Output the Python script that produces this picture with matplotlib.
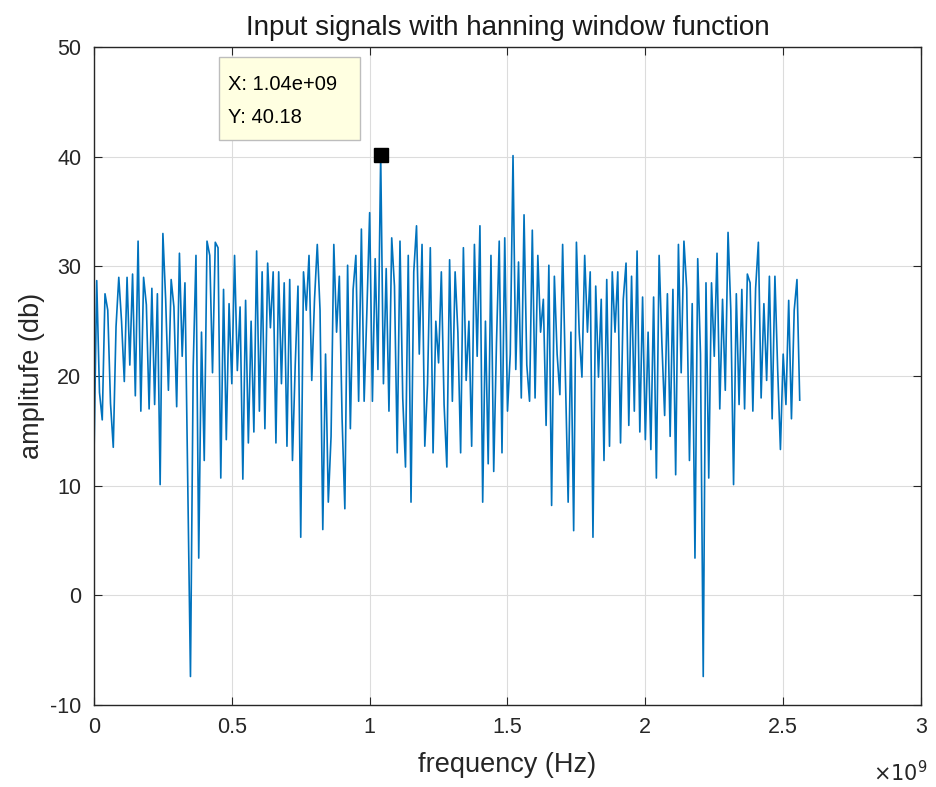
import numpy as np
import matplotlib
matplotlib.use("Agg")
import matplotlib.pyplot as plt
from matplotlib.patches import Rectangle
from matplotlib.ticker import FuncFormatter

# spectrum, one value per 10 MHz bin (0 .. 2.56 GHz)
bin_width = 1e7
amplitude_db = [
    12.6, 28.7, 18.5, 16.0, 27.5, 26.0, 17.5, 13.5, 24.5, 29.0,
    25.0, 19.5, 29.0, 21.0, 29.3, 18.2, 32.3, 16.8, 29.0, 26.5,
    17.0, 28.0, 17.4, 27.5, 10.1, 33.0, 27.0, 18.7, 28.8, 26.3,
    17.2, 31.2, 21.8, 28.5, 10.7, -7.4, 20.9, 31.0, 3.4, 24.0,
    12.3, 32.3, 31.0, 20.3, 32.2, 31.7, 10.7, 27.9, 14.2, 26.6,
    19.3, 31.0, 20.5, 26.3, 10.6, 26.9, 13.9, 25.0, 14.9, 31.4,
    16.8, 29.5, 15.2, 30.3, 24.4, 29.5, 13.9, 29.5, 19.3, 28.5,
    13.6, 28.8, 12.3, 21.0, 28.2, 5.3, 29.5, 26.0, 31.0, 19.6,
    27.0, 32.0, 26.0, 6.0, 22.0, 8.5, 14.5, 32.0, 24.0, 29.1,
    16.1, 7.9, 30.1, 15.2, 27.9, 31.0, 17.7, 33.4, 17.7, 26.0,
    34.9, 17.7, 30.7, 20.6, 40.18, 19.3, 29.8, 16.8, 32.6, 28.2,
    13.0, 32.3, 18.0, 11.7, 31.0, 8.5, 29.5, 33.7, 22.0, 32.0,
    13.6, 19.3, 31.7, 13.0, 25.0, 21.2, 29.5, 17.4, 11.7, 30.6,
    17.7, 29.5, 24.0, 13.0, 31.7, 19.6, 25.0, 13.6, 32.0, 21.8,
    33.7, 8.5, 25.0, 12.0, 31.0, 11.3, 23.0, 32.3, 13.0, 32.6,
    16.8, 22.0, 40.1, 20.6, 30.4, 18.0, 34.7, 21.0, 17.7, 33.3,
    18.0, 31.0, 24.0, 27.0, 15.5, 30.1, 8.2, 29.1, 22.0, 18.3,
    32.0, 20.0, 8.5, 24.0, 5.9, 32.2, 24.0, 19.9, 31.0, 24.0,
    29.5, 5.3, 28.2, 19.9, 27.0, 12.3, 28.8, 13.6, 29.5, 24.0,
    29.5, 13.9, 27.0, 30.3, 15.5, 29.1, 16.8, 31.4, 14.9, 27.2,
    14.2, 24.0, 13.3, 27.2, 10.7, 31.0, 23.0, 16.4, 27.5, 14.5,
    27.9, 11.0, 32.0, 20.3, 32.3, 28.0, 12.3, 26.6, 3.4, 30.7,
    22.0, -7.4, 28.5, 10.7, 28.5, 21.8, 31.2, 17.0, 27.0, 18.7,
    33.1, 26.0, 10.1, 27.5, 17.4, 27.9, 17.0, 29.3, 28.5, 16.8,
    28.0, 32.2, 18.0, 26.6, 19.6, 29.1, 16.1, 29.1, 20.6, 13.3,
    22.0, 17.4, 26.9, 16.1, 26.0, 28.8, 17.8,
]
freq = np.arange(len(amplitude_db)) * bin_width

# data tip on the 1.04 GHz peak
tip_x = 1.04e9
tip_y = 40.18
tip_text = 'X: 1.04e+09\nY: 40.18'

plt.rcParams['font.family'] = ['Liberation Sans', 'DejaVu Sans']
plt.rcParams['axes.unicode_minus'] = False
fig = plt.figure(figsize=(9.36, 7.87), dpi=100)
ax = fig.add_axes([0.1004, 0.1042, 0.8836, 0.836])

ax.plot(freq, amplitude_db, color='#0072BD', linewidth=1.2)
ax.plot([tip_x], [tip_y], marker='s', color='black', markersize=10, linestyle='none')

ax.set_xlim(0, 3e9)
ax.set_ylim(-10, 50)
ax.set_xticks(np.arange(0, 3.01e9, 0.5e9))
ax.set_yticks(np.arange(-10, 51, 10))
ax.xaxis.set_major_formatter(FuncFormatter(lambda v, p: '%g' % (v / 1e9)))
ax.grid(True, color='#dcdcdc', linewidth=0.8)
ax.set_axisbelow(True)

for s in ax.spines.values():
    s.set_color('#262626')
    s.set_linewidth(1.0)
ax.tick_params(direction='in', top=True, right=True, length=6,
               labelsize=15.5, colors='#262626')
ax.tick_params(axis='x', pad=9)
ax.tick_params(axis='y', pad=9)

ax.set_title('Input signals with hanning window function', fontsize=20,
             color='#1a1a1a', pad=9)
ax.set_xlabel('frequency (Hz)', fontsize=19.5, color='#262626', labelpad=10)
ax.set_ylabel('amplitufe (db)', fontsize=19.5, color='#262626', labelpad=4)
ax.text(1.008, -0.102, r'$\times10^{9}$', transform=ax.transAxes, ha='right',
        va='center', fontsize=15, color='#262626')

# data tip box
ax.add_patch(Rectangle((0.151, 0.859), 0.171, 0.126, transform=ax.transAxes,
                       facecolor='#FFFFE1', edgecolor='#bdbdbd', linewidth=1.0,
                       zorder=5))
ax.text(0.162, 0.918, tip_text, transform=ax.transAxes, fontsize=14.5,
        color='black', va='center', ha='left', linespacing=1.9, zorder=6)

fig.savefig('out.png', dpi=100)
